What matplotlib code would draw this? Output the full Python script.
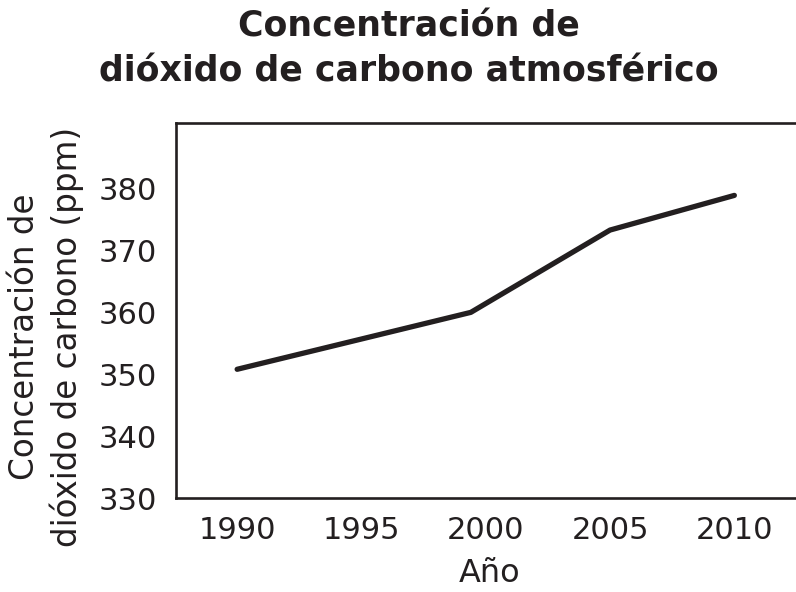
import matplotlib
matplotlib.use("Agg")
import matplotlib.pyplot as plt

years = [1990, 1999.4, 2005, 2010]
co2_ppm = [350.8, 360.0, 373.3, 378.9]
xticks = [1990, 1995, 2000, 2005, 2010]
yticks = [330, 340, 350, 360, 370, 380]

title = "Concentración de\ndióxido de carbono atmosférico"
xlabel = "Año"
ylabel = "Concentración de\ndióxido de carbono (ppm)"

ink = "#231f20"
plt.rcParams['font.family'] = ['DejaVu Sans']

fig = plt.figure(figsize=(7.96, 5.92), dpi=100)
W, H = 796, 592
ax = fig.add_axes([176 / W, 1 - 498 / H, 1 - 176 / W + 0.01, (498 - 123) / H])

ax.plot(years, co2_ppm, color=ink, lw=3.8, solid_capstyle='round', solid_joinstyle='round')

ax.set_xlim(1987.54, 2012.8)
ax.set_ylim(330.1, 390.6)
ax.set_xticks(xticks)
ax.set_yticks(yticks)
ax.tick_params(length=0, labelsize=22, colors=ink)
ax.tick_params(axis='y', pad=14)
ax.tick_params(axis='x', pad=13)
for s in ['left', 'top', 'bottom']:
    ax.spines[s].set_linewidth(1.9)
    ax.spines[s].set_color(ink)
ax.spines['right'].set_visible(False)

ax.set_xlabel(xlabel, fontsize=23, color=ink, labelpad=9.5)
ax.set_ylabel(ylabel, fontsize=23.5, color=ink, linespacing=1.3, va='center')
ax.yaxis.set_label_coords((48 - 176) / 620, 0.43)

fig.text(409 / W, 1 - 49 / H, title, ha='center', va='center', fontsize=25,
         fontweight='bold', color=ink, linespacing=1.38)

fig.savefig("out.png", dpi=100)
